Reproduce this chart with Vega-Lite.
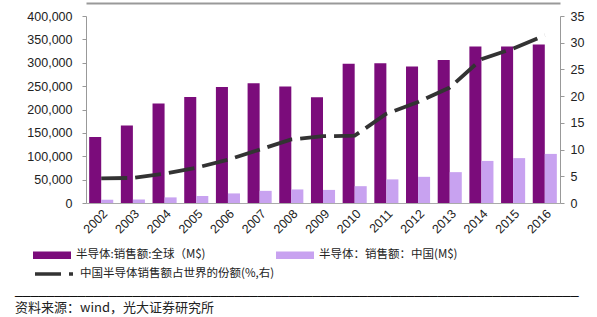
{
  "$schema": "https://vega.github.io/schema/vega-lite/v6.json",
  "width": 474,
  "height": 187,
  "autosize": {"type": "none"},
  "padding": {"left": 86, "top": 16, "right": 37, "bottom": 114},
  "background": "white",
  "config": {
    "view": {"stroke": null},
    "axis": {"labelFont": "Liberation Sans", "labelFontSize": 12.5, "labelColor": "#222", "domainColor": "#999", "tickColor": "#999", "grid": false, "title": null},
    "legend": {"labelFont": "Noto Sans CJK SC", "labelFontSize": 11.5, "labelColor": "#222"}
  },
  "title": {
    "text": "────────────────────────────────────────────────────────────────────────",
    "subtitle": "资料来源：wind，光大证券研究所",
    "orient": "bottom",
    "anchor": "start",
    "frame": "group",
    "dx": -71,
    "offset": 10,
    "font": "DejaVu Sans Mono",
    "fontSize": 13,
    "fontWeight": "normal",
    "color": "#111",
    "subtitleFont": "Noto Sans CJK SC",
    "subtitleFontSize": 13,
    "subtitleColor": "#222",
    "subtitlePadding": -2
  },
  "data": {
    "values": [
      {"year": "2002", "global": 141000, "china": 7000, "share": 4.6},
      {"year": "2003", "global": 166000, "china": 7500, "share": 4.7},
      {"year": "2004", "global": 213000, "china": 12000, "share": 5.5},
      {"year": "2005", "global": 227000, "china": 15000, "share": 6.6},
      {"year": "2006", "global": 248000, "china": 20500, "share": 8.1},
      {"year": "2007", "global": 256000, "china": 26000, "share": 10.0},
      {"year": "2008", "global": 249000, "china": 29000, "share": 11.9},
      {"year": "2009", "global": 226000, "china": 28000, "share": 12.5},
      {"year": "2010", "global": 298000, "china": 36000, "share": 12.6},
      {"year": "2011", "global": 299000, "china": 50500, "share": 16.7},
      {"year": "2012", "global": 292000, "china": 56000, "share": 18.9},
      {"year": "2013", "global": 306000, "china": 66000, "share": 21.6},
      {"year": "2014", "global": 335000, "china": 90000, "share": 26.9},
      {"year": "2015", "global": 335000, "china": 96000, "share": 28.9},
      {"year": "2016", "global": 339000, "china": 105000, "share": 31.4}
    ]
  },
  "resolve": {"scale": {"y": "independent"}, "axis": {"x": "independent"}},
  "layer": [
    {
      "transform": [
        {"fold": ["global", "china"], "as": ["series", "value"]},
        {"calculate": "datum.series === 'global' ? '半导体:销售额:全球（M$)' : '半导体：销售额：中国(M$)'", "as": "name"}
      ],
      "mark": {"type": "bar"},
      "encoding": {
        "x": {
          "field": "year", "type": "nominal",
          "scale": {"paddingInner": 0.24, "paddingOuter": 0.1},
          "axis": {"labelAngle": -45, "ticks": false, "labelPadding": 4, "domainColor": "#aaa"}
        },
        "xOffset": {"field": "name", "type": "nominal", "sort": ["半导体:销售额:全球（M$)", "半导体：销售额：中国(M$)"], "scale": {"paddingInner": 0, "paddingOuter": 0}},
        "y": {
          "field": "value", "type": "quantitative",
          "scale": {"domain": [0, 400000], "nice": false},
          "axis": {"orient": "left", "values": [0, 50000, 100000, 150000, 200000, 250000, 300000, 350000, 400000], "format": ",d", "tickSize": 4, "labelPadding": 10}
        },
        "color": {
          "field": "name", "type": "nominal",
          "scale": {"domain": ["半导体:销售额:全球（M$)", "半导体：销售额：中国(M$)"], "range": ["#7b0c7b", "#c8a2f0"]},
          "legend": {
            "orient": "none", "legendX": -53, "legendY": 220,
            "direction": "horizontal", "columns": 2, "columnPadding": 70,
            "symbolType": "M-1,-0.2H1V0.2H-1Z", "symbolSize": 1444, "symbolStrokeWidth": 0,
            "labelOffset": 5, "title": null, "labelLimit": 300
          }
        }
      }
    },
    {
      "mark": {"type": "line", "stroke": "#333", "strokeWidth": 3.8},
      "encoding": {
        "x": {
          "field": "year", "type": "nominal",
          "axis": {"orient": "top", "offset": 13, "labels": false, "ticks": false, "domainColor": "#999", "domainWidth": 2}
        },
        "y": {
          "field": "share", "type": "quantitative",
          "scale": {"domain": [0, 35], "nice": false},
          "axis": {"orient": "right", "values": [0, 5, 10, 15, 20, 25, 30, 35], "tickSize": 4, "labelPadding": 6}
        },
        "strokeDash": {
          "datum": "中国半导体销售额占世界的份额(%,右)",
          "scale": {"range": [[26, 8]]},
          "legend": {
            "orient": "none", "legendX": -53, "legendY": 237,
            "symbolType": "stroke", "symbolSize": 1444, "symbolStrokeWidth": 3.5,
            "symbolStrokeColor": "#333", "symbolDash": [28, 5],
            "labelOffset": 5, "title": null, "labelLimit": 300
          }
        }
      }
    }
  ]
}
